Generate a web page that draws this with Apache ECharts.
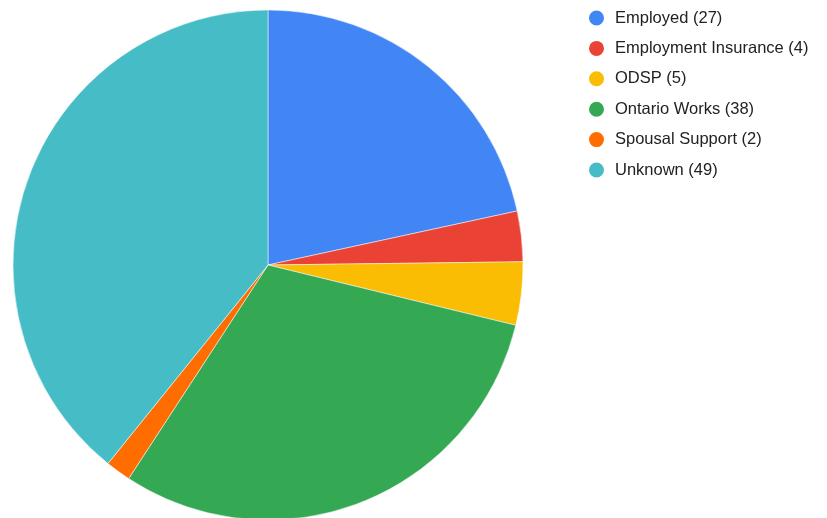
<!DOCTYPE html>
<html>
<head>
<meta charset="utf-8">
<script src="https://cdn.jsdelivr.net/npm/echarts@6/dist/echarts.min.js"></script>
<style>
  html, body { margin: 0; padding: 0; background: #fff; }
  #chart { width: 827px; height: 518px; }
</style>
</head>
<body>
<div id="chart"></div>
<script>
// Income source breakdown
const categories = ['Employed', 'Employment Insurance', 'ODSP', 'Ontario Works', 'Spousal Support', 'Unknown'];
const counts = [27, 4, 5, 38, 2, 49];
const colors = ['#4285F4', '#EA4335', '#FBBC04', '#34A853', '#FF6D01', '#46BDC6'];

const chart = echarts.init(document.getElementById('chart'), null, { renderer: 'canvas' });

const pieData = categories.map((name, i) => ({ name, value: counts[i] }));
const countByName = {};
categories.forEach((n, i) => { countByName[n] = counts[i]; });

chart.setOption({
  animation: false,
  color: colors,
  legend: {
    orient: 'vertical',
    left: 582,
    top: 3.5,
    padding: 5,
    icon: 'circle',
    itemWidth: 17,
    itemHeight: 17,
    itemGap: 11.4,
    formatter: name => name + ' (' + countByName[name] + ')',
    textStyle: {
      fontFamily: 'Liberation Sans, Arial, sans-serif',
      fontSize: 16.5,
      lineHeight: 17,
      color: '#222222',
      padding: [0, 0, 0, 5]
    }
  },
  series: [{
    type: 'pie',
    center: [268, 265],
    radius: 255,
    startAngle: 90,
    clockwise: true,
    label: { show: false },
    labelLine: { show: false },
    emphasis: { disabled: true },
    itemStyle: { borderColor: '#ffffff', borderWidth: 0.5 },
    data: pieData
  }]
});
</script>
</body>
</html>
